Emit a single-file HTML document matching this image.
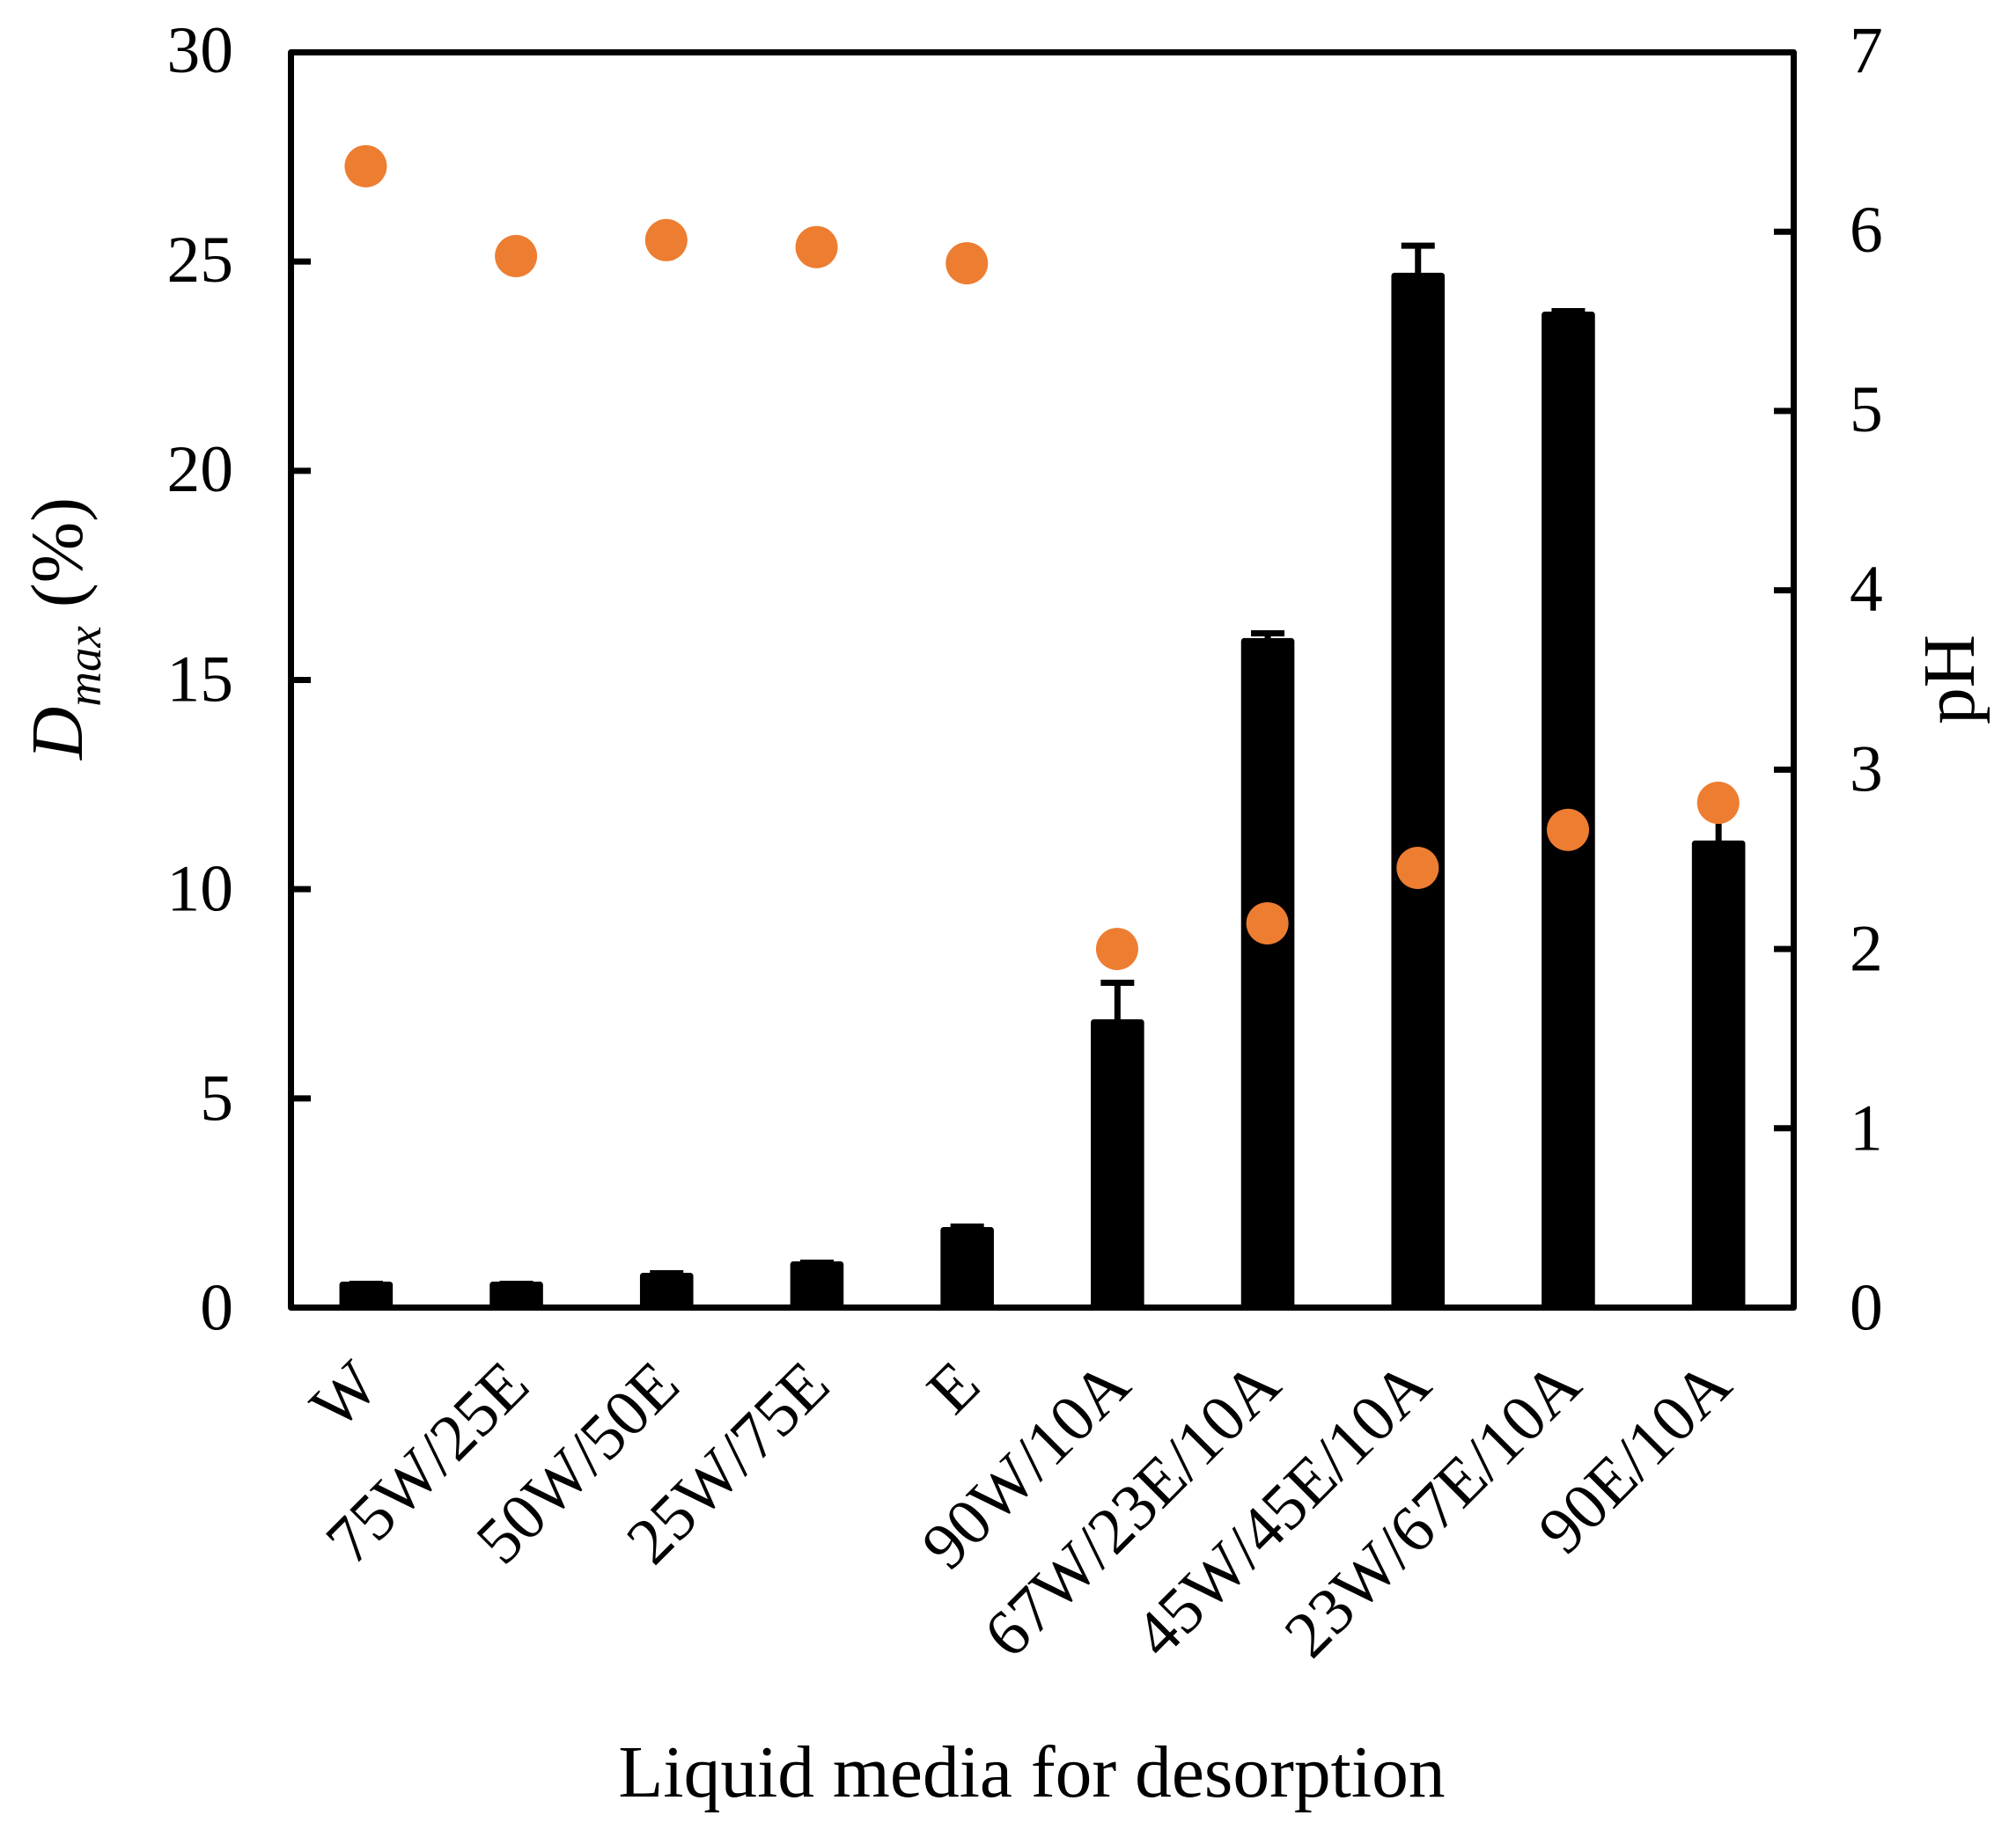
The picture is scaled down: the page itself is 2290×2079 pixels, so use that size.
<!DOCTYPE html>
<html lang="en">
<head>
<meta charset="utf-8">
<title>Dmax and pH by liquid media for desorption</title>
<style>
html,body{margin:0;padding:0;background:#fff;}
svg{display:block;}
text{font-family:"Liberation Serif","Times New Roman",serif;fill:#000;}
</style>
</head>
<body>
<svg id="chart" xmlns="http://www.w3.org/2000/svg" width="2290" height="2079" viewBox="0 0 2290 2079">
  <rect x="0" y="0" width="2290" height="2079" fill="#ffffff"/>
  <g id="bars"></g>
  <g id="errors"></g>
  <g id="points"></g>
  <g id="ticks"></g>
  <rect x="330.5" y="59.5" width="1707" height="1426" fill="none" stroke="#000" stroke-width="7" stroke-linejoin="round"/>
  <g id="labels"></g>
  <text transform="translate(93,863) rotate(-90)" font-size="83.5"><tspan font-style="italic">D</tspan><tspan font-style="italic" font-size="55" dy="21">max</tspan><tspan dy="-21"> (%)</tspan></text>
  <text transform="translate(2242,823) rotate(-90)" font-size="83.5">pH</text>
  <text x="1172" y="2041" font-size="83.5" text-anchor="middle">Liquid media for desorption</text>
</svg>
<script>
const categories = ["W", "75W/25E", "50W/50E", "25W/75E", "E", "90W/10A", "67W/23E/10A", "45W/45E/10A", "23W/67E/10A", "90E/10A"];
const dmaxValues = [0.547, 0.547, 0.757, 1.031, 1.851, 6.817, 15.927, 24.66, 23.73, 11.09];
const dmaxErrors = [0.02, 0.02, 0.063, 0.042, 0.085, 0.946, 0.189, 0.72, 0.085, 0.95];
const phValues = [6.365, 5.864, 5.953, 5.914, 5.824, 2.0, 2.143, 2.452, 2.664, 2.815];
const leftTicks = [0, 5, 10, 15, 20, 25, 30];
const rightTicks = [0, 1, 2, 3, 4, 5, 6, 7];

const NS = "http://www.w3.org/2000/svg";
const plotLeft = 330.5, plotRight = 2037.5, plotTop = 59.5, plotBottom = 1485.5;
const leftMax = 30, rightMax = 7;

function xPos(i) { return plotLeft + (i + 0.5) * (plotRight - plotLeft) / categories.length; }
function yLeft(v) { return plotBottom - v / leftMax * (plotBottom - plotTop); }
function yRight(v) { return plotBottom - v / rightMax * (plotBottom - plotTop); }
function labelLeft(v) { return 1510.5 - v / leftMax * 1428.5; }
function labelRight(v) { return 1510.5 - v / rightMax * 1428.5; }

function make(tag, attrs, parent) {
  const el = document.createElementNS(NS, tag);
  for (const k in attrs) el.setAttribute(k, attrs[k]);
  parent.appendChild(el);
  return el;
}

const barsG = document.getElementById("bars");
const errorsG = document.getElementById("errors");
const pointsG = document.getElementById("points");
const ticksG = document.getElementById("ticks");
const labelsG = document.getElementById("labels");

categories.forEach(function (cat, i) {
  const cx = xPos(i);
  const top = yLeft(dmaxValues[i]);
  const bar = make("rect", { x: cx - 26.8, y: top, width: 53.6, height: plotBottom - top, fill: "#000", stroke: "#000", "stroke-width": 7, "stroke-linejoin": "round" }, barsG);
  
  

  const errY = yLeft(dmaxValues[i] + dmaxErrors[i]);
  const stem = make("line", { x1: cx, x2: cx, y1: top, y2: errY, stroke: "#000", "stroke-width": 7 }, errorsG);
  
  
  const cap = make("line", { x1: cx - 19, x2: cx + 19, y1: errY, y2: errY, stroke: "#000", "stroke-width": 7 }, errorsG);
  
  

  const pt = make("circle", { cx: cx - 0.4, cy: yRight(phValues[i]), r: 24, fill: "#ED7D31" }, pointsG);
  
  

  const lx = cx + 18, ly = 1577.5;
  const label = make("text", { transform: "translate(" + lx + "," + ly + ") rotate(-45)", "font-size": 75, "text-anchor": "end" }, labelsG);
  label.textContent = cat;
  
  
});

leftTicks.forEach(function (v) {
  if (v > 0 && v < leftMax) {
    const t = make("line", { x1: plotLeft, x2: plotLeft + 22.5, y1: yLeft(v), y2: yLeft(v), stroke: "#000", "stroke-width": 7 }, ticksG);
    
    
  }
  const l = make("text", { x: 265, y: labelLeft(v), "font-size": 75.5, "text-anchor": "end" }, labelsG);
  l.textContent = String(v);
  
  
});

rightTicks.forEach(function (v) {
  if (v > 0 && v < rightMax) {
    const t = make("line", { x1: plotRight - 22.5, x2: plotRight, y1: yRight(v), y2: yRight(v), stroke: "#000", "stroke-width": 7 }, ticksG);
    
    
  }
  const l = make("text", { x: 2101, y: labelRight(v), "font-size": 75.5 }, labelsG);
  l.textContent = String(v);
  
  
});
</script>
</body>
</html>
